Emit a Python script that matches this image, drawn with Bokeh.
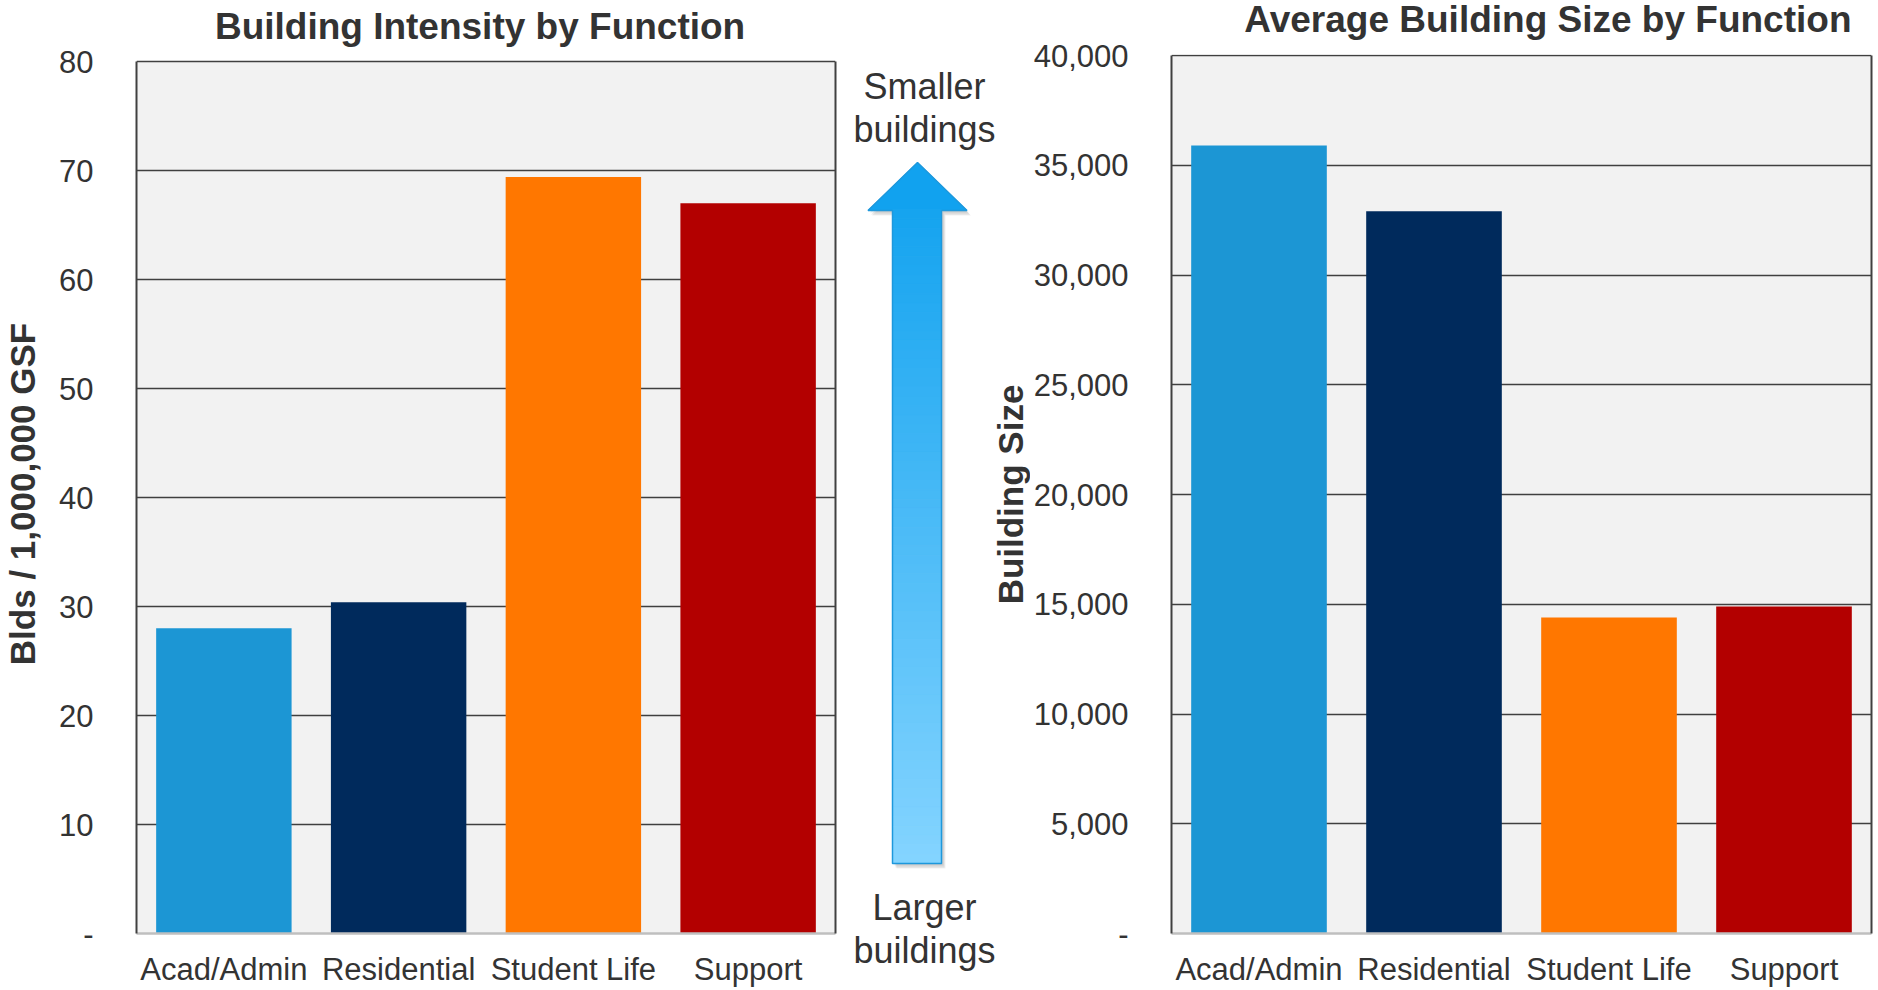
import math

from bokeh.plotting import figure
from bokeh.layouts import row
from bokeh.models import (BoxAnnotation, ColumnDataSource, FixedTicker,
                          LinearAxis, NumeralTickFormatter, Range1d)
from bokeh.core.properties import value
from bokeh.embed import file_html
from bokeh.resources import INLINE

# ---- data -----------------------------------------------------------------
categories = ["Acad/Admin", "Residential", "Student Life", "Support"]
bar_colors = ["#1C96D4", "#002A5C", "#FF7700", "#B30000"]

# buildings per 1,000,000 GSF
intensity = [28.0, 30.4, 69.4, 67.0]
intensity_ticks = [0, 10, 20, 30, 40, 50, 60, 70, 80]

# average gross square feet per building
avg_size = [35900, 32900, 14400, 14900]
size_ticks = [0, 5000, 10000, 15000, 20000, 25000, 30000, 35000, 40000]

# ---- styling / page geometry ---------------------------------------------
FONT = "Liberation Sans"
TEXT = "#333333"
DARK_LINE = "#404040"
BASE_LINE = "#BFBFBF"
PANEL_BG = "#F2F2F2"
BAR_WIDTH = 0.775

PAGE_H = 990
FRAME_TOP = 54          # shared top of all plot frames (px)
FRAME_BOTTOM = 933      # shared zero line (px)


def bar_panel(title, values, ticks, width, border_left, border_right,
              top_px, title_x, title_mid_px):
    """Bar chart whose top tick sits at pixel row top_px."""
    units_per_px = ticks[-1] / (FRAME_BOTTOM - top_px)
    y_end = ticks[-1] + (top_px - FRAME_TOP) * units_per_px

    src = ColumnDataSource(dict(cat=categories, val=values, color=bar_colors))
    p = figure(x_range=categories, y_range=Range1d(0, y_end),
               width=width, height=PAGE_H,
               min_border_left=border_left, min_border_right=border_right,
               min_border_top=FRAME_TOP,
               min_border_bottom=PAGE_H - FRAME_BOTTOM,
               output_backend="svg", toolbar_location=None)
    p.background_fill_color = "white"
    p.border_fill_color = "white"
    p.outline_line_color = None

    # grey plot area up to the top tick
    p.add_layout(BoxAnnotation(bottom=0, top=ticks[-1], fill_color=PANEL_BG,
                               fill_alpha=1, line_color=None, level="image"))

    p.vbar(x="cat", top="val", width=BAR_WIDTH, source=src,
           fill_color="color", line_color=None)

    p.xgrid.visible = False
    p.ygrid.ticker = FixedTicker(ticks=ticks[1:])
    p.ygrid.grid_line_color = DARK_LINE
    p.ygrid.grid_line_width = 1.6

    ya = p.yaxis[0]
    ya.ticker = FixedTicker(ticks=ticks)
    ya.bounds = (0, ticks[-1])
    ya.major_label_overrides = {0: "-"}
    ya.major_tick_line_color = None
    ya.minor_tick_line_color = None
    ya.axis_line_color = DARK_LINE
    ya.axis_line_width = 2
    ya.major_label_standoff = 37
    ya.major_label_text_font = FONT
    ya.major_label_text_font_size = "31px"
    ya.major_label_text_color = TEXT

    # plain border line on the right-hand edge of the plot area
    edge = LinearAxis(ticker=FixedTicker(ticks=[]), bounds=(0, ticks[-1]),
                      axis_line_color=DARK_LINE, axis_line_width=2,
                      major_tick_line_color=None, minor_tick_line_color=None,
                      major_label_standoff=0, major_label_text_font_size="0px")
    p.add_layout(edge, "right")

    xa = p.xaxis[0]
    xa.major_tick_line_color = None
    xa.axis_line_color = BASE_LINE
    xa.axis_line_width = 2.5
    xa.major_label_standoff = 12
    xa.major_label_text_font = FONT
    xa.major_label_text_font_size = "31px"
    xa.major_label_text_color = TEXT

    t = p.text(x=[title_x], y=[(FRAME_BOTTOM - title_mid_px) * units_per_px],
               text=[title], text_font=value(FONT), text_font_size="37px",
               text_font_style="bold", text_color=TEXT,
               text_align="center", text_baseline="middle")
    t.level = "overlay"
    return p


left = bar_panel("Building Intensity by Function", intensity, intensity_ticks,
                 width=837, border_left=134, border_right=2, top_px=61,
                 title_x=1.966, title_mid_px=25.5)
ly = left.yaxis[0]
ly.axis_label = "Blds / 1,000,000 GSF"
ly.axis_label_standoff = 14
ly.axis_label_text_font = FONT
ly.axis_label_text_font_size = "35px"
ly.axis_label_text_font_style = "bold"
ly.axis_label_text_color = TEXT

right = bar_panel("Average Building Size by Function", avg_size, size_ticks,
                  width=848, border_left=138, border_right=7, top_px=55,
                  title_x=2.151, title_mid_px=19)
right.yaxis[0].formatter = NumeralTickFormatter(format="0,0")

# ---- middle strip: direction arrow and the right-hand axis title -----------
# data units in this strip are page pixels (x from the strip's left edge,
# y as the page row)
MID_W = 193
mid = figure(width=MID_W, height=PAGE_H, x_range=Range1d(0, MID_W),
             y_range=Range1d(FRAME_BOTTOM, FRAME_TOP),
             x_axis_type=None, y_axis_type=None,
             min_border_left=0, min_border_right=0,
             min_border_top=FRAME_TOP, min_border_bottom=PAGE_H - FRAME_BOTTOM,
             output_backend="svg", toolbar_location=None)
mid.outline_line_color = None
mid.background_fill_color = "white"
mid.border_fill_color = "white"
mid.grid.visible = False

TIP_X, TIP_Y = 80, 162
HEAD_L, HEAD_R, HEAD_BASE = 30.5, 129.5, 210
SHAFT_L, SHAFT_R, SHAFT_BOTTOM = 55, 104, 863
arrow_xs = [TIP_X, HEAD_R, SHAFT_R, SHAFT_R, SHAFT_L, SHAFT_L, HEAD_L]
arrow_ys = [TIP_Y, HEAD_BASE, HEAD_BASE, SHAFT_BOTTOM, SHAFT_BOTTOM,
            HEAD_BASE, HEAD_BASE]

# soft drop shadow
for dx, dy, a in [(4, 5, 0.06), (3, 4, 0.08), (2, 2, 0.08)]:
    mid.patch([x + dx for x in arrow_xs], [y + dy for y in arrow_ys],
              fill_color="black", fill_alpha=a, line_color=None)

TOP_RGB = (0x0D, 0xA0, 0xEE)
BOTTOM_RGB = (0x84, 0xD4, 0xFF)


def shade(t):
    r, g, b = (round(a + (b_ - a) * t) for a, b_ in zip(TOP_RGB, BOTTOM_RGB))
    return f"#{r:02x}{g:02x}{b:02x}"


# head (solid) and shaft (vertical gradient built from thin bands)
mid.patch([TIP_X, HEAD_R, HEAD_L], [TIP_Y, HEAD_BASE, HEAD_BASE],
          fill_color=shade(0.03), line_color=shade(0.03), line_width=1)
N = 70
span = SHAFT_BOTTOM - TIP_Y
band_top, band_bottom, band_color = [], [], []
for i in range(N):
    y0 = HEAD_BASE - 1 + (SHAFT_BOTTOM - HEAD_BASE + 1) * i / N
    y1 = HEAD_BASE - 1 + (SHAFT_BOTTOM - HEAD_BASE + 1) * (i + 1) / N
    band_top.append(y0)
    band_bottom.append(y1)
    band_color.append(shade(((y0 + y1) / 2 - TIP_Y) / span))
mid.quad(left=SHAFT_L, right=SHAFT_R, top=band_top, bottom=band_bottom,
         fill_color=band_color, line_color=band_color, line_width=1)
mid.patch(arrow_xs, arrow_ys, fill_color=None, line_color="#1E98DC",
          line_width=1.5)

notes = mid.text(x=[87, 87, 87, 87], y=[86, 129, 907, 950],
                 text=["Smaller", "buildings", "Larger", "buildings"],
                 text_font=value(FONT), text_font_size="36px",
                 text_color=TEXT, text_align="center",
                 text_baseline="middle")
notes.level = "overlay"

mid.text(x=[172.5], y=[494], text=["Building Size"], angle=math.pi / 2,
         text_font=value(FONT), text_font_size="35px",
         text_font_style="bold", text_color=TEXT,
         text_align="center", text_baseline="middle")

layout = row(left, mid, right)
open("out.html", "w").write(file_html(layout, INLINE))
